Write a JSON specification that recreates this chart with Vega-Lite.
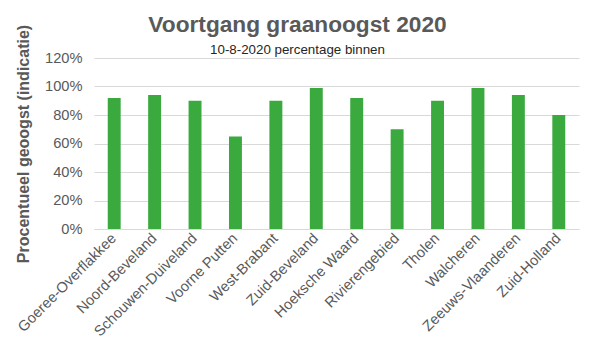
{
  "$schema": "https://vega.github.io/schema/vega-lite/v6.json",
  "autosize": "none",
  "width": 485,
  "height": 171,
  "padding": {"left": 94, "top": 58, "right": 13, "bottom": 129},
  "background": "white",
  "config": {
    "font": "Liberation Sans",
    "view": {"stroke": null}
  },
  "title": {
    "text": "Voortgang graanoogst 2020",
    "subtitle": "10-8-2020 percentage binnen",
    "anchor": "middle",
    "dx": -39,
    "offset": -32,
    "fontSize": 22.7,
    "fontWeight": "bold",
    "color": "#595959",
    "subtitleFontSize": 13.33,
    "subtitleColor": "#262626",
    "subtitlePadding": 6,
    "subtitleFont": "Liberation Sans"
  },
  "data": {
    "values": [
      {"gebied": "Goeree-Overflakkee", "pct": 0.92},
      {"gebied": "Noord-Beveland", "pct": 0.94},
      {"gebied": "Schouwen-Duiveland", "pct": 0.90},
      {"gebied": "Voorne Putten", "pct": 0.65},
      {"gebied": "West-Brabant", "pct": 0.90},
      {"gebied": "Zuid-Beveland", "pct": 0.99},
      {"gebied": "Hoeksche Waard", "pct": 0.92},
      {"gebied": "Rivierengebied", "pct": 0.70},
      {"gebied": "Tholen", "pct": 0.90},
      {"gebied": "Walcheren", "pct": 0.99},
      {"gebied": "Zeeuws-Vlaanderen", "pct": 0.94},
      {"gebied": "Zuid-Holland", "pct": 0.80}
    ]
  },
  "mark": {"type": "bar", "color": "#3aaa3f"},
  "encoding": {
    "x": {
      "field": "gebied",
      "type": "nominal",
      "sort": null,
      "scale": {"paddingInner": 0.68, "paddingOuter": 0.34},
      "axis": {
        "title": null,
        "labelAngle": -45,
        "labelAlign": "right",
        "labelBaseline": "middle",
        "labelFontSize": 14.67,
        "labelColor": "#595959",
        "labelPadding": 7,
        "ticks": false,
        "domainColor": "#d9d9d9",
        "labelOverlap": false,
        "labelLimit": 300
      }
    },
    "y": {
      "field": "pct",
      "type": "quantitative",
      "scale": {"domain": [0, 1.2], "nice": false},
      "axis": {
        "title": "Procentueel geoogst (indicatie)",
        "titleFontSize": 16,
        "titleFontWeight": "bold",
        "titleColor": "#595959",
        "titlePadding": 13,
        "format": ".0%",
        "values": [0, 0.2, 0.4, 0.6, 0.8, 1.0, 1.2],
        "labelFontSize": 14.67,
        "labelColor": "#595959",
        "labelPadding": 12,
        "ticks": false,
        "domain": false,
        "gridColor": "#d9d9d9"
      }
    }
  }
}
